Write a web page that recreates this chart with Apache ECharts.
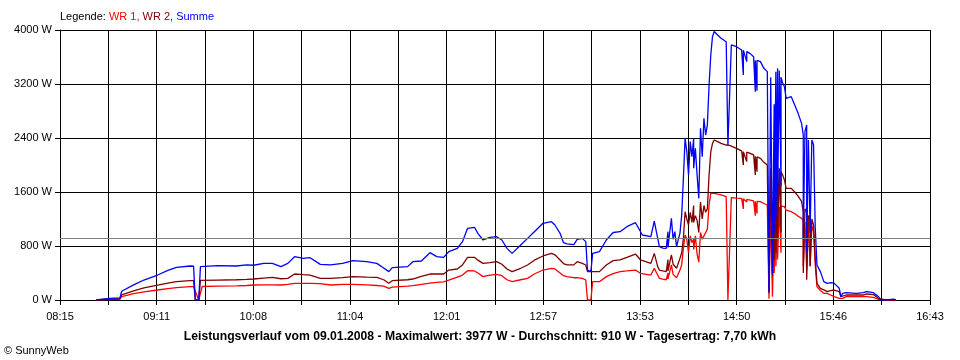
<!DOCTYPE html>
<html><head><meta charset="utf-8">
<script src="https://cdn.jsdelivr.net/npm/echarts@6/dist/echarts.min.js"></script>
<style>html,body{margin:0;padding:0;background:#fff}#c{width:960px;height:360px}</style>
</head><body><div id="c"></div>
<script>
const times = ['08:36','08:37','08:44','08:50','08:51','08:58','09:04','09:12','09:18','09:23','09:31','09:33','09:34','09:36','09:37','09:38','09:47','09:58','10:04','10:08','10:14','10:19','10:24','10:28','10:32','10:37','10:41','10:47','10:53','11:00','11:06','11:14','11:20','11:24','11:27','11:29','11:38','11:41','11:46','11:51','11:55','11:59','12:02','12:07','12:10','12:13','12:17','12:19','12:22','12:26','12:30','12:33','12:36','12:39','12:44','12:48','12:52','12:57','13:02','13:04','13:07','13:09','13:11','13:15','13:17','13:20','13:22','13:23','13:25','13:26','13:30','13:34','13:38','13:42','13:46','13:51','13:54','13:55','14:00','14:02','14:04','14:05','14:07','14:09','14:10','14:10','14:12','14:13','14:14','14:15','14:17','14:18','14:19','14:20','14:21','14:22','14:23','14:24','14:25','14:25','14:26','14:27','14:28','14:29','14:30','14:31','14:32','14:33','14:34','14:35','14:36','14:37','14:39','14:41','14:44','14:45','14:46','14:47','14:50','14:53','14:54','14:54','14:56','14:56','14:58','15:00','15:01','15:01','15:02','15:02','15:04','15:06','15:08','15:09','15:10','15:10','15:11','15:11','15:12','15:12','15:13','15:13','15:14','15:14','15:15','15:16','15:16','15:17','15:18','15:19','15:22','15:24','15:26','15:28','15:29','15:29','15:30','15:31','15:31','15:32','15:33','15:33','15:34','15:35','15:36','15:37','15:39','15:41','15:43','15:45','15:47','15:50','15:51','15:52','15:54','16:00','16:04','16:06','16:10','16:13','16:14','16:17','16:18','16:22','16:23'];
const wr1 = [0,5,10,15,50,95,120,148,170,183,198,198,198,0,0,200,205,210,215,222,225,225,222,230,247,247,247,242,222,232,232,225,215,205,173,190,205,212,230,250,260,270,296,340,370,434,430,400,346,370,380,360,300,271,300,321,385,444,469,460,400,360,346,330,330,321,296,0,0,271,271,346,390,420,430,444,395,380,370,469,370,321,310,300,400,310,519,380,395,330,444,520,765,963,900,700,950,850,900,750,950,680,560,1000,900,950,1000,1050,1407,1580,1580,1580,1570,1556,1531,0,0,1516,1510,1506,1350,1500,1450,1490,1481,1470,1250,1460,1280,1460,1457,1430,1407,20,0,1400,1400,50,1200,400,1400,500,1380,600,1380,700,1390,1383,1383,1330,1308,1280,1240,1210,1180,500,1160,1160,450,1160,1160,500,1100,1012,519,198,140,99,99,74,49,25,0,25,49,49,49,49,40,10,0,0,0,0,0];
const wr2 = [0,10,15,15,75,135,180,222,250,271,286,286,0,0,290,290,295,300,305,311,325,336,315,321,385,375,370,321,321,330,346,340,336,300,247,286,300,311,350,385,385,385,444,459,520,632,632,590,543,555,568,530,459,420,470,519,590,652,691,670,593,540,519,520,568,543,519,420,420,420,420,519,583,593,632,681,593,568,543,691,494,444,430,420,600,430,667,530,543,470,617,700,913,1308,1200,1111,1300,1150,1400,1150,1250,1180,1000,1450,1200,1400,1300,1350,1852,2197,2321,2370,2346,2321,2296,2296,2290,2270,2247,2210,2000,2197,2050,2190,2173,2150,1852,2130,1900,2120,2099,2040,2000,100,100,1950,1950,350,1700,600,1980,700,2000,900,1950,1000,1900,1850,1778,1654,1654,1600,1540,1460,1308,400,1350,1300,300,1250,1210,500,1200,1111,617,247,173,150,123,140,148,123,49,60,74,74,74,89,80,25,0,0,0,0,0];
const summe = [0,15,25,30,130,225,296,370,440,484,504,500,0,0,494,494,508,504,519,515,543,543,494,543,642,617,627,528,519,543,583,568,543,475,420,479,494,568,578,701,642,632,716,765,864,1062,1077,988,889,928,938,889,765,691,815,913,1012,1136,1160,1111,988,849,830,820,899,913,865,444,420,691,716,889,1000,1012,1086,1145,1012,963,938,1170,913,790,770,765,1012,780,1210,900,1012,790,990,1250,1803,2395,2197,1852,2346,2123,2395,1951,2247,1852,1506,2543,2123,2691,2444,2593,3185,3630,3901,3977,3926,3877,3827,2296,2290,3778,3753,3704,3333,3700,3531,3680,3650,3605,3086,3550,3100,3550,3531,3432,3383,120,100,3300,3300,400,2900,1000,3383,1200,3432,1500,3400,1700,3300,3210,3160,2988,3012,2889,2765,2617,2444,900,2500,2593,700,2370,2370,1000,2370,2300,1062,519,420,272,247,258,250,173,49,99,109,99,109,123,109,49,0,0,12,12,0];
const xTickLabels = ['08:15','09:11','10:08','11:04','12:01','12:57','13:53','14:50','15:46','16:43'];
const seriesNames = ['WR 1','WR 2','Summe'];
const avgValue = 910;
const yMin = 0, yMax = 4000, yStep = 800;
const startTime = '08:15', endTime = '16:43', divisions = 18;

const toMin = t => { const p = t.split(':').map(Number); return p[0]*60 + p[1]; };
const span = (toMin(endTime) - toMin(startTime)) / divisions;
const toUnit = t => (toMin(t) - toMin(startTime)) / span;

const FONT = 'Liberation Sans';
const chart = echarts.init(document.getElementById('c'), null, {renderer:'canvas'});
const mk = (name, vals, color, extra) => Object.assign({
  name, type:'line', showSymbol:false, symbol:'none', animation:false,
  lineStyle:{width:1.3, color}, itemStyle:{color},
  data: times.map((t,i)=>[toUnit(t), vals[i]])
}, extra||{});
const rs = c => ({color:c, fontSize:11, fontFamily:FONT, fontWeight:'normal'});

chart.setOption({
  animation:false,
  backgroundColor:'#fff',
  grid:{left:60, right:30, top:30, bottom:60, containLabel:false},
  title:[
    {text:'{k|Legende: }{a|WR 1, }{b|WR 2, }{c|Summe}', left:60, top:11, padding:0,
     textStyle:{fontWeight:'normal', fontSize:11, fontFamily:FONT,
       rich:{k:rs('#000'), a:rs('#ff0000'), b:rs('#800000'), c:rs('#0000ff')}}},
    {text:'Leistungsverlauf vom 09.01.2008 - Maximalwert: 3977 W - Durchschnitt: 910 W - Tagesertrag: 7,70 kWh',
     left:'center', top:331, padding:0,
     textStyle:{color:'#000', fontSize:12.2, fontWeight:'bold', fontFamily:FONT}},
    {text:'© SunnyWeb', left:4, top:345, padding:0,
     textStyle:{color:'#000', fontSize:11, fontWeight:'normal', fontFamily:FONT}}
  ],
  xAxis:{type:'value', min:0, max:divisions, interval:1,
    axisLine:{lineStyle:{color:'#000', width:1}},
    axisTick:{show:true, length:5, lineStyle:{color:'#000'}},
    splitLine:{show:true, lineStyle:{color:'#000', width:1}},
    axisLabel:{color:'#000', fontSize:11, fontFamily:FONT, margin:11,
      formatter:(v)=>{ const r=Math.round(v); return r%2===0 ? xTickLabels[r/2] : ''; }}},
  yAxis:{type:'value', min:yMin, max:yMax, interval:yStep,
    axisLine:{show:true, lineStyle:{color:'#000', width:1}},
    axisTick:{show:true, length:5, lineStyle:{color:'#000'}},
    splitLine:{show:true, lineStyle:{color:'#000', width:1}},
    axisLabel:{color:'#000', fontSize:11, fontFamily:FONT, margin:8, formatter:(v)=>v + ' W'}},
  series:[
    mk(seriesNames[0], wr1, '#ff0000', {z:2}),
    mk(seriesNames[1], wr2, '#800000', {z:3}),
    mk(seriesNames[2], summe, '#0000ff', {z:4,
      markLine:{silent:true, symbol:'none', animation:false, label:{show:false},
        lineStyle:{color:'#808080', type:'solid', width:1},
        data:[{yAxis:avgValue}]}})
  ]
});
</script></body></html>
